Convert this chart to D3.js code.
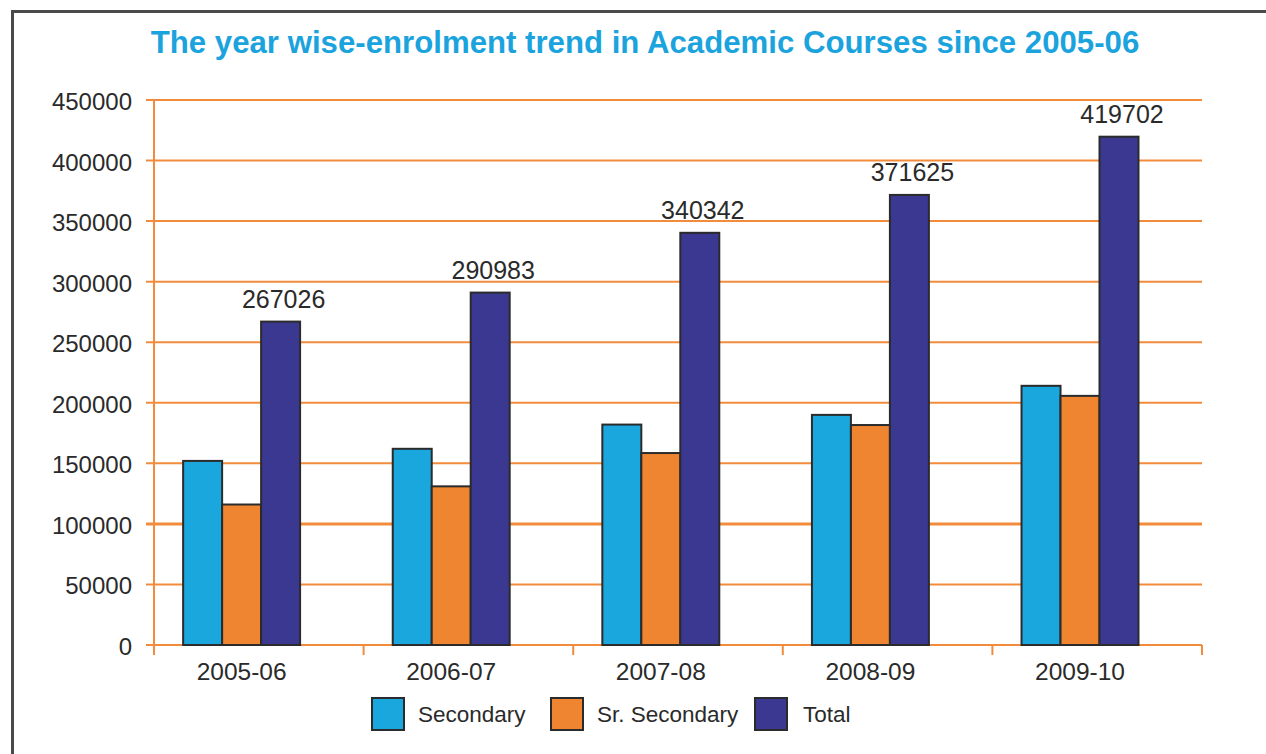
<!DOCTYPE html>
<html><head><meta charset="utf-8">
<script src="https://cdn.jsdelivr.net/npm/d3@7"></script>
<style>body{margin:0;background:#fff}svg{display:block}</style>
</head><body>
<svg id="c" width="1266" height="754"></svg>
<script>
const categories = ["2005-06","2006-07","2007-08","2008-09","2009-10"];
const seriesNames = ["Secondary","Sr. Secondary","Total"];
const secondary = [152000,162000,182000,190000,214000];
const srSecondary = [116000,131000,158500,181625,205702];
const total = [267026,290983,340342,371625,419702];
const yTicks = [0,50000,100000,150000,200000,250000,300000,350000,400000,450000];
const colors = ["#1aa7de","#ef8530","#3b3891"];

(function(){
const svg = d3.select("#c");
const font = "'Liberation Sans', Arial, sans-serif";
const gridColor = "#f28c3c";
const txt = "#2a2a2a";

// frame
svg.append("rect").attr("x",12.5).attr("y",11.5).attr("width",1300).attr("height",800)
  .attr("fill","none").attr("stroke","#4a4a4a").attr("stroke-width",3);

// title
svg.append("text").attr("x",645).attr("y",53).attr("text-anchor","middle")
  .attr("font-family",font).attr("font-weight","bold").attr("font-size",31.2)
  .attr("fill","#1ba3dd").text("The year wise-enrolment trend in Academic Courses since 2005-06");

const pL=154, pR=1202, pT=100, pB=645;
const y = d3.scaleLinear().domain([0,450000]).range([pB,pT]);
const x = d3.scaleBand().domain(categories).range([pL,pR]).padding(0);
const bw = x.bandwidth();
const xs = d3.scaleBand().domain(seriesNames).range([bw*0.139, bw*0.697]).padding(0);

// grid
const g = svg.append("g");
g.selectAll("line.grid").data(yTicks).join("line")
  .attr("x1",pL-8).attr("x2",pR).attr("y1",d=>y(d)).attr("y2",d=>y(d))
  .attr("stroke",gridColor).attr("stroke-width",d=>d===100000?3:2);
g.append("line").attr("x1",pL).attr("x2",pL).attr("y1",pT).attr("y2",pB+10)
  .attr("stroke",gridColor).attr("stroke-width",2);
const bounds = categories.map(c=>x(c)).concat([pR]);
g.selectAll("line.xt").data(bounds.slice(1)).join("line")
  .attr("x1",d=>d).attr("x2",d=>d).attr("y1",pB).attr("y2",pB+10)
  .attr("stroke",gridColor).attr("stroke-width",2);

// y labels
svg.selectAll("text.yl").data(yTicks).join("text")
  .attr("x",132).attr("y",d=>y(d)+10).attr("text-anchor","end")
  .attr("font-family",font).attr("font-size",24).attr("fill",txt)
  .text(d=>d);

// bars
const data = categories.map((c,i)=>({c, vals:[secondary[i],srSecondary[i],total[i]]}));
const grp = svg.selectAll("g.cat").data(data).join("g").attr("transform",d=>`translate(${x(d.c)},0)`);
grp.selectAll("rect").data(d=>d.vals.map((v,j)=>({v,s:seriesNames[j],j}))).join("rect")
  .attr("x",d=>xs(d.s)).attr("width",xs.bandwidth()).attr("y",d=>y(d.v)).attr("height",d=>pB-y(d.v))
  .attr("fill",d=>colors[d.j]).attr("stroke","#2b2b2b").attr("stroke-width",2);
grp.append("text").attr("x",xs("Total")+xs.bandwidth()/2+3).attr("y",d=>y(d.vals[2])-14)
  .attr("text-anchor","middle").attr("font-family",font).attr("font-size",25).attr("fill",txt)
  .text(d=>d.vals[2]);
grp.append("text").attr("x",(xs("Secondary")+xs("Total")+xs.bandwidth())/2).attr("y",680)
  .attr("text-anchor","middle").attr("font-family",font).attr("font-size",24.5).attr("fill",txt)
  .text(d=>d.c);

// legend
const legX = [372,551,755];
const leg = svg.selectAll("g.leg").data(seriesNames).join("g")
  .attr("transform",(d,i)=>`translate(${legX[i]},698)`);
leg.append("rect").attr("width",32).attr("height",32).attr("fill",(d,i)=>colors[i])
  .attr("stroke","#2b2b2b").attr("stroke-width",2);
leg.append("text").attr("x",(d,i)=>i===2?48:46).attr("y",24).attr("font-family",font)
  .attr("font-size",22.5).attr("fill",txt).text(d=>d);
})();
</script>
</body></html>
